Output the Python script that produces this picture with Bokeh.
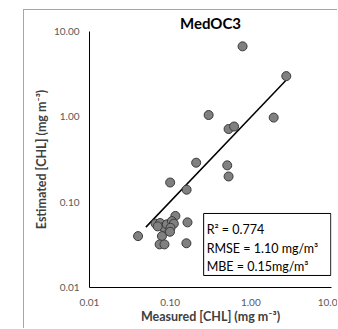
from bokeh.plotting import figure
from bokeh.models import FixedTicker, BoxAnnotation, Label, ColumnDataSource, InlineStyleSheet
from bokeh.embed import file_html
from bokeh.resources import INLINE

# ---- data ----
measured = [0.79, 2.75, 0.30, 1.92, 0.53, 0.62, 0.21, 0.51, 0.53, 0.10, 0.16,
            0.116, 0.164, 0.066, 0.075, 0.082, 0.091, 0.105, 0.111, 0.070,
            0.101, 0.0995, 0.079, 0.074, 0.085, 0.159, 0.040]
estimated = [6.7, 3.0, 1.05, 0.98, 0.72, 0.77, 0.29, 0.27, 0.20, 0.17, 0.14,
             0.069, 0.058, 0.056, 0.057, 0.051, 0.055, 0.060, 0.056, 0.052,
             0.050, 0.045, 0.040, 0.032, 0.032, 0.033, 0.040]
fit_x = [0.05, 2.75]
fit_y = [0.051, 2.7]
tick_values = [0.01, 0.1, 1, 10]
x_tick_labels = ["0.01", "0.10", "1.00", "10.0"]
y_tick_labels = ["0.01", "0.10", "1.00", "10.00"]
title_text = "MedOC3"
x_title = "Measured [CHL] (mg m\u207b\u00b3)"
y_title = "Estimated [CHL] (mg m\u207b\u00b3)"
stats_lines = ["R\u00b2 = 0.774", "RMSE =  1.10 mg/m\u00b3", "MBE =  0.15mg/m\u00b3"]
stats_y = [0.0479, 0.0286, 0.0176]

FONT = "Lato"

border_css = InlineStyleSheet(css=":host { border-top: 1px solid #a6a6a6; border-left: 1px solid #a6a6a6; }")

p = figure(width=314, height=319, x_axis_type="log", y_axis_type="log",
           x_range=(0.01, 10), y_range=(0.01, 10),
           output_backend="svg", toolbar_location=None,
           min_border_left=65, min_border_right=7, min_border_top=21, min_border_bottom=42,
           margin=(9, 0, 0, 23), stylesheets=[border_css])
p.outline_line_color = None
p.xgrid.visible = False
p.ygrid.visible = False
p.background_fill_color = "white"
p.border_fill_color = "white"

p.title.text = title_text
p.title.align = "center"
p.title.text_font = FONT
p.title.text_font_size = "15px"
p.title.text_font_style = "bold"
p.title.text_color = "black"
p.title.standoff = 0
p.title.offset = -5

for ax, labels in ((p.xaxis[0], x_tick_labels), (p.yaxis[0], y_tick_labels)):
    ax.ticker = FixedTicker(ticks=tick_values)
    ax.major_label_overrides = {v: l for v, l in zip(tick_values, labels)}
    ax.major_tick_line_color = None
    ax.minor_tick_line_color = None
    ax.major_tick_out = 0
    ax.major_tick_in = 0
    ax.minor_tick_out = 0
    ax.minor_tick_in = 0
    ax.axis_line_color = "black"
    ax.axis_line_width = 1
    ax.major_label_text_font = FONT
    ax.major_label_text_font_size = "10px"
    ax.major_label_text_color = "#595959"
    ax.axis_label_text_font = FONT
    ax.axis_label_text_font_style = "bold"
    ax.axis_label_text_font_size = "12.5px"
    ax.axis_label_text_color = "#404040"

p.xaxis.axis_label = x_title
p.yaxis.axis_label = y_title
p.xaxis.major_label_standoff = 11
p.yaxis.major_label_standoff = 10
p.xaxis.axis_label_standoff = 0
p.yaxis.axis_label_standoff = 2

p.line(fit_x, fit_y, line_color="black", line_width=1.5)
src = ColumnDataSource(dict(x=measured, y=estimated))
p.scatter("x", "y", source=src, size=9, fill_color="#808080",
          line_color="#3a3a3a", line_width=1)

p.add_layout(BoxAnnotation(left=0.26, right=9.8, top=0.0737, bottom=0.01383,
                           fill_color="white", fill_alpha=1, line_color="black",
                           line_width=1, line_alpha=1))
for t, yv in zip(stats_lines, stats_y):
    p.add_layout(Label(x=0.26, y=yv, x_offset=3, text=t, text_font=FONT,
                       text_font_size="12.5px", text_color="black",
                       text_baseline="middle", text_align="left"))

open("out.html", "w").write(file_html(p, INLINE))
